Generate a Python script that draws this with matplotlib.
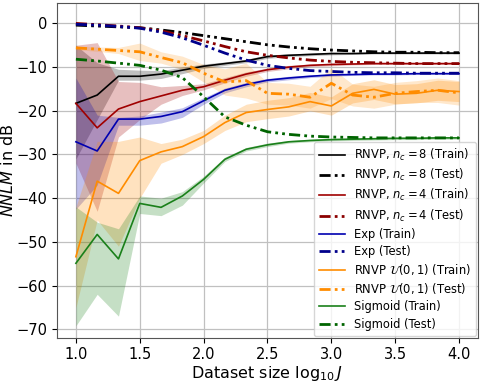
import numpy as np
import matplotlib
matplotlib.use("Agg")
import matplotlib.pyplot as plt

x = np.linspace(1.0, 4.0, 19)

# RNVP nc=8
r8_train = [-18.3, -16.4, -12.1, -12.1, -11.6, -10.7, -9.8, -9.2, -8.6, -7.6, -7.3, -7.1, -6.9, -6.9, -6.8, -6.8, -6.8, -6.8, -6.8]
r8_train_lo = [-31, -22, -13.0, -13.0, -12.6, -11.5, -10.3, -9.6, -9.0, -8.0, -7.6, -7.4, -7.2, -7.1, -7.0, -7.0, -7.0, -7.0, -7.0]
r8_train_hi = [-5, -9, -10.5, -10.7, -10.8, -10.0, -9.3, -8.8, -8.2, -7.2, -7.0, -6.8, -6.6, -6.7, -6.6, -6.6, -6.6, -6.6, -6.6]
r8_test = [-0.4, -0.6, -0.8, -1.0, -1.5, -2.1, -2.8, -3.5, -4.2, -4.9, -5.4, -5.8, -6.1, -6.3, -6.5, -6.6, -6.6, -6.7, -6.7]

# RNVP nc=4
r4_train = [-18.3, -23.9, -19.6, -17.9, -16.6, -15.3, -14.5, -13.0, -11.6, -10.6, -10.0, -9.6, -9.4, -9.3, -9.2, -9.2, -9.2, -9.2, -9.2]
r4_train_lo = [-32, -43, -26, -22, -18.5, -16.5, -15.2, -13.6, -12.1, -11.0, -10.4, -9.9, -9.7, -9.5, -9.4, -9.4, -9.4, -9.4, -9.4]
r4_train_hi = [-5, -4.4, -13.3, -13.5, -14.5, -14.2, -13.8, -12.4, -11.1, -10.2, -9.6, -9.3, -9.1, -9.1, -9.0, -9.0, -9.0, -9.0, -9.0]
r4_test = [0.0, -0.3, -0.6, -1.0, -1.7, -2.8, -4.0, -5.3, -6.5, -7.3, -7.9, -8.4, -8.7, -8.9, -9.0, -9.1, -9.2, -9.2, -9.2]

# Exp
exp_train = [-27.1, -29.2, -21.9, -21.9, -21.3, -20.2, -17.7, -15.3, -14.0, -13.0, -12.5, -12.1, -11.8, -11.7, -11.6, -11.6, -11.5, -11.5, -11.5]
exp_train_lo = [-42.5, -37, -23.3, -23.3, -22.8, -21.5, -18.5, -15.9, -14.5, -13.4, -12.9, -12.4, -12.1, -11.9, -11.8, -11.8, -11.7, -11.7, -11.7]
exp_train_hi = [-12.5, -21, -21.5, -21.2, -20.3, -19.3, -17.0, -14.8, -13.5, -12.6, -12.1, -11.8, -11.5, -11.5, -11.4, -11.4, -11.3, -11.3, -11.3]
exp_test = [-0.2, -0.4, -0.7, -1.1, -2.0, -3.3, -5.0, -6.8, -8.4, -9.6, -10.3, -10.8, -11.0, -11.2, -11.3, -11.3, -11.4, -11.4, -11.4]

# RNVP U(0,1)
u_train = [-53.4, -36.1, -38.9, -31.4, -29.4, -28.2, -25.9, -22.7, -20.4, -19.7, -19.1, -17.9, -18.9, -16.0, -15.1, -16.2, -16.0, -15.3, -15.6]
u_train_lo = [-65, -45, -51, -40, -32, -30, -27.5, -24.5, -22.5, -21.8, -21.2, -20.0, -21.0, -18.2, -17.4, -18.4, -18.2, -17.6, -17.9]
u_train_hi = [-42, -27, -27, -26, -27.5, -26.5, -24.5, -21.0, -18.5, -17.6, -17.0, -15.8, -16.8, -13.8, -12.9, -14.0, -13.8, -13.0, -13.3]
u_test = [-5.6, -5.9, -6.2, -6.5, -7.8, -9.0, -11.4, -13.4, -13.1, -16.0, -16.2, -16.9, -13.7, -16.4, -16.9, -16.0, -15.6, -15.3, -15.9]
u_test_lo = [-6.0, -6.4, -6.9, -8.5, -9.1, -10.5, -13.4, -16.4, -17.1, -18.5, -18.7, -19.4, -17.2, -18.9, -19.4, -18.5, -18.1, -18.1, -18.7]
u_test_hi = [-5.2, -5.4, -5.5, -4.5, -6.5, -7.5, -9.4, -10.4, -9.1, -13.5, -13.7, -14.4, -10.2, -13.9, -14.4, -13.5, -13.1, -12.5, -13.1]

# Sigmoid
s_train = [-54.9, -48.3, -53.9, -41.2, -42.1, -39.5, -35.7, -31.1, -28.8, -27.8, -27.1, -26.8, -26.6, -26.5, -26.4, -26.3, -26.3, -26.2, -26.2]
s_train_lo = [-69.2, -62, -67, -43.5, -44, -41.6, -36.5, -31.6, -29.2, -28.2, -27.4, -27.1, -26.9, -26.8, -26.7, -26.6, -26.6, -26.5, -26.5]
s_train_hi = [-42, -45.5, -47, -39.5, -40.0, -38.5, -35.0, -30.6, -28.4, -27.4, -26.8, -26.5, -26.3, -26.2, -26.1, -26.0, -26.0, -25.9, -25.9]
s_test = [-8.2, -8.6, -9.1, -9.6, -10.7, -12.4, -16.8, -21.4, -23.3, -24.8, -25.4, -25.8, -26.0, -26.1, -26.2, -26.2, -26.2, -26.2, -26.2]

xticks = [1.0, 1.5, 2.0, 2.5, 3.0, 3.5, 4.0]
yticks = [0, -10, -20, -30, -40, -50, -60, -70]

series = [
    ("RNVP, $n_c = 8$", "black", "black", r8_train, r8_train_lo, r8_train_hi, r8_test, None, None),
    ("RNVP, $n_c = 4$", "#a00000", "#8b0000", r4_train, r4_train_lo, r4_train_hi, r4_test, None, None),
    ("Exp", "#0000b0", "#00008b", exp_train, exp_train_lo, exp_train_hi, exp_test, None, None),
    ("RNVP $\\mathcal{U}(0, 1)$", "#ff8c00", "#ff8c00", u_train, u_train_lo, u_train_hi, u_test, u_test_lo, u_test_hi),
    ("Sigmoid", "#1a801a", "#006400", s_train, s_train_lo, s_train_hi, s_test, None, None),
]

fig = plt.figure(figsize=(4.85, 3.88), dpi=100)
ax = fig.add_axes([0.117, 0.130, 0.869, 0.8615])

test_ls = (0, (4, 1.5, 1, 1.5, 1, 1.5))
for name, ctr, cte, tr, lo, hi, te, tlo, thi in series:
    ax.fill_between(x, lo, hi, color=ctr, alpha=0.25, linewidth=0)
    if tlo is not None:
        ax.fill_between(x, tlo, thi, color=cte, alpha=0.2, linewidth=0)

for name, ctr, cte, tr, lo, hi, te, tlo, thi in series:
    ax.plot(x, tr, color=ctr, lw=1.2, label=name + " (Train)")
    ax.plot(x, te, color=cte, lw=2.0, linestyle=test_ls, label=name + " (Test)")

ax.set_xlim(0.85, 4.15)
ax.set_ylim(-71.9, 4.6)
ax.set_xticks(xticks)
ax.set_yticks(yticks)
ax.tick_params(labelsize=10.5)
ax.grid(True, color="#c0c0c0", lw=0.9)
ax.set_axisbelow(True)
for s in ax.spines.values():
    s.set_color("#555555")
ax.set_xlabel("Dataset size $\\log_{10} J$", fontsize=11.5, labelpad=1)
ax.set_ylabel("$NNLM$ in dB", fontsize=11.5, labelpad=0)
ax.legend(loc="lower right", fontsize=8.3, handlelength=2.3, borderpad=0.45,
          labelspacing=0.36, borderaxespad=0.15)

fig.savefig("out.png", dpi=100)
